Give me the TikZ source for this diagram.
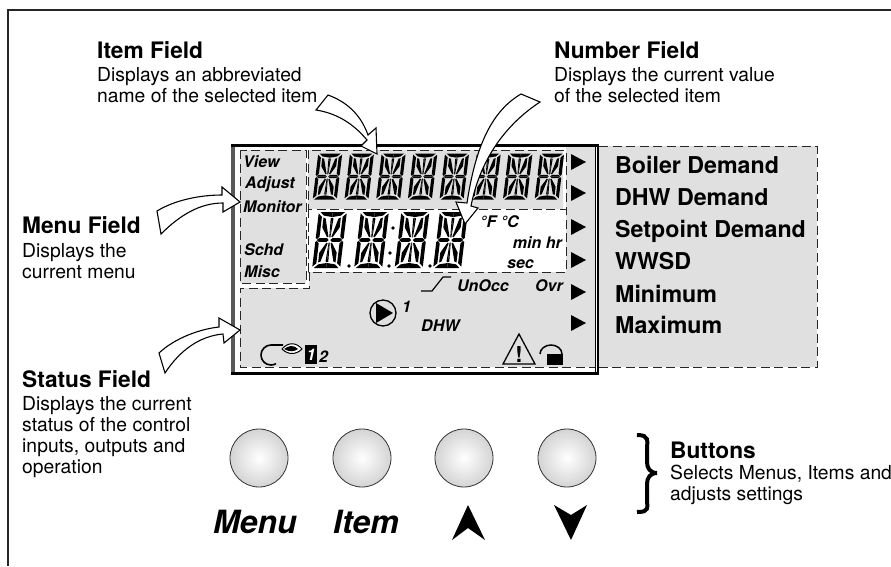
\documentclass[tikz,border=0pt]{standalone}
\usepackage{fontspec}
\setmainfont{TeX Gyre Heros}
\usepackage{tikz}
\usetikzlibrary{
	positioning,
	shadings
}
\definecolor{lcdgray}{HTML}{E0E0E0}
\tikzset{
	fieldtitle/.style={anchor=base west,inner sep=0pt,font=\fontsize{22.7}{26}\selectfont\bfseries},
	fielddesc/.style={inner sep=0pt,align=left,font=\fontsize{19.3}{21}\selectfont},
	lcdlabel/.style={anchor=base west,inner sep=0pt,font=\fontsize{16}{18}\selectfont\bfseries\itshape},
	keyname/.style={anchor=base west,inner sep=0pt,font=\fontsize{32}{36}\selectfont\bfseries\itshape},
	modename/.style={anchor=base west,inner sep=0pt,font=\fontsize{23.2}{26}\selectfont\bfseries},
	zonedash/.style={line width=1pt,dash pattern=on 9pt off 4.5pt,black!85},
	blockarrow/.style={draw=black,fill=white,line width=1.1pt,line join=miter},
	roundkey/.style={circle,draw=black!80,line width=.8pt,minimum size=58pt,inner sep=0pt,inner color=white,outer color=black!17},
	pics/lcddigit/.style={code={
		\foreach \sx/\sy in {1/1,-1/1,1/-1,-1/-1} {
			\fill[xscale=\sx,yscale=\sy]
				(0,1) -- (.44,1) -- (.30,.87) -- (0,.82) -- cycle
				(.5,.95) -- (.37,.83) -- (.37,.12) -- (.45,.03) -- (.5,.07) -- cycle
				(.03,0) -- (.10,.07) -- (.37,.07) -- (.45,0) -- cycle
				(.31,.80) -- (.23,.77) -- (.05,.11) -- (.10,.10) -- (.31,.45) -- cycle
				(0,.79) -- (.05,.77) -- (.02,.09) -- (0,.09) -- cycle;
		}
	}}
}
\begin{document}
\begin{tikzpicture}[x=1pt,y=-1pt]
	\useasboundingbox (0,0) rectangle (891,566);
	\draw[line width=1.2pt,black!85] (891,10) -- (8,10) -- (8,566);

	% display
	\fill[lcdgray] (240,288) -- (309,288) -- (309,272) -- (566,272) -- (566,147) -- (595,147) -- (595,367) -- (240,367) -- cycle;
	\fill[lcdgray] (240,150) rectangle (306,283);
	\fill[lcdgray] (308,150) rectangle (563,209);
	\fill[lcdgray] (599,146) rectangle (817,367);
	\draw[line width=4pt,black!65] (232.5,146) -- (232.5,374);
	\draw[line width=2.5pt] (231,145.5) -- (598,145.5) -- (598,373.5) -- (231,373.5);
	\draw[line width=1pt] (595,147) -- (595,372);

	\draw[zonedash] (240,150) rectangle (306,283);
	\draw[zonedash] (308,150) rectangle (566,209);
	\draw[zonedash] (308,209) -- (308,272) -- (566,272) -- (566,209);
	\draw[zonedash] (309,272) -- (309,288) -- (240,288) -- (240,367) -- (595,367);
	\draw[zonedash] (599,146.5) -- (817,146.5) -- (817,367) -- (599,367);

	\foreach \n in {0,...,7}
		\path (327.5+\n*31.7,176.5) pic[xslant=.12,xscale=24,yscale=23] {lcddigit};
	\foreach \cx in {329.5,371.5,412,450.5}
		\path (\cx,240) pic[xslant=.12,xscale=28,yscale=28] {lcddigit};
	\foreach \dx/\dy in {349/266,393/228,390/253,389/266,430/266}
		\fill (\dx,\dy) circle (1.9);
	\foreach \ty in {162,193,227,260,292,323}
		\fill (571,\ty-8) -- (586,\ty) -- (571,\ty+8) -- cycle;

	\node[lcdlabel] (view) at (243,167) {View};
	\node[lcdlabel] (adjust) at (245,188) {Adjust};
	\node[lcdlabel] (monitor) at (243,212) {Monitor};
	\node[lcdlabel] (schd) at (244,255) {Schd};
	\node[lcdlabel] (misc) at (244,277) {Misc};
	\node[lcdlabel] (degrees) at (480,227) {°F °C};
	\node[lcdlabel,anchor=base east] (minhr) at (562,248) {min hr};
	\node[lcdlabel] (sec) at (507,268) {sec};
	\node[lcdlabel] (unocc) at (457,291) {UnOcc};
	\node[lcdlabel] (ovr) at (535,291) {Ovr};
	\node[lcdlabel] (dhw) at (421,331) {DHW};
	\node[lcdlabel] (pumpone) at (402,312) {1};
	\node[lcdlabel] (stagetwo) at (319,362) {2};

	\draw[line width=1.2pt] (421,291) -- (432,291) -- (443,277) -- (451,277);
	\draw[line width=1.3pt] (383,313) circle (13);
	\fill (376,303) -- (393,313) -- (376,323) -- cycle;
	\draw[line width=1.6pt] (283,345) -- (271,345) arc (-90:-300:10);
	\draw[line width=1pt,fill=white] (282,349) .. controls (288,342) and (296,342) .. (302,349) .. controls (296,355) and (288,355) .. (282,349) -- cycle;
	\fill (284,349) .. controls (289,345) and (294,345) .. (298,349) .. controls (294,352) and (289,352) .. (284,349) -- cycle;
	\fill (305,345) rectangle (317,364);
	\node[lcdlabel,text=white,anchor=base] (stageone) at (311,360) {1};
	\draw[line width=1.3pt,line join=miter] (519,334) -- (535,364) -- (503,364) -- cycle;
	\node[inner sep=0pt,anchor=base,font=\fontsize{22}{24}\selectfont\bfseries] (caution) at (519,362) {!};
	\draw[line width=1.5pt] (540,354) arc (180:360:11 and 9);
	\fill (547,354) rectangle (563,365);

	% right panel
	\foreach \mname/\mtxt/\my in {boiler/Boiler Demand/173,dhwdem/DHW Demand/205,setpoint/Setpoint Demand/237,wwsd/WWSD/269,minimum/Minimum/302,maximum/Maximum/333}
		\node[modename] (\mname) at (615,\my) {\mtxt};

	% callouts
	\draw[blockarrow] (328,95) .. controls (350,103) and (362,118) .. (368,135) -- (376,128) -- (377,154) -- (361,146) -- (367,140) .. controls (352,122) and (335,113) .. (316,110) -- cycle;
	\draw[blockarrow] (521,94) .. controls (490,112) and (475,150) .. (467,203) -- (456,202) -- (465,224) -- (478,208) -- (471,206) .. controls (480,160) and (505,125) .. (540,102) -- cycle;
	\draw[blockarrow] (157,211) .. controls (175,200) and (200,195) .. (222,195) -- (222,187) -- (240,202) -- (223,212) -- (223,203) .. controls (200,203) and (180,215) .. (161,234) -- cycle;
	\draw[blockarrow] (159,353) .. controls (175,338) and (200,329) .. (219,327) -- (219,318) -- (240,330) -- (224,343) -- (223,334) .. controls (200,336) and (180,350) .. (165,373) -- cycle;

	\node[fieldtitle] (itemtitle) at (97,58) {Item Field};
	\node[fielddesc,below right=9pt and 0pt of itemtitle.base west] (itemdesc) {\strut Displays an abbreviated\\name of the selected item};
	\node[fieldtitle] (numbertitle) at (554,58) {Number Field};
	\node[fielddesc,below right=9pt and 0pt of numbertitle.base west] (numberdesc) {\strut Displays the current value\\of the selected item};
	\node[fieldtitle] (menutitle) at (22,233) {Menu Field};
	\node[fielddesc,below right=10pt and 0pt of menutitle.base west] (menudesc) {\strut Displays the\\current menu};
	\node[fieldtitle] (statustitle) at (22,387) {Status Field};
	\node[fielddesc,below right=8.5pt and 0pt of statustitle.base west] (statusdesc) {\strut Displays the current\\status of the control\\inputs, outputs and\\operation};
	\node[fieldtitle] (buttonstitle) at (670,458) {Buttons};
	\node[fielddesc,below right=7pt and 0pt of buttonstitle.base west] (buttonsdesc) {\strut Selects Menus, Items and\\adjusts settings};

	% keys
	\node[roundkey] (menukey) at (259,458) {};
	\node[roundkey] (itemkey) at (362,458) {};
	\node[roundkey] (upkey) at (464,458) {};
	\node[roundkey] (downkey) at (567,458) {};
	\node[keyname] (menulabel) at (213,533) {Menu};
	\node[keyname] (itemlabel) at (333,533) {Item};
	\fill (468,505) -- (485,540) -- (468,528) -- (452,540) -- cycle;
	\fill (571,540) -- (554,505) -- (571,515) -- (587,505) -- cycle;
	\draw[line width=4pt] (637,435) .. controls (650,435) and (647,441) .. (647,450) -- (647,462) .. controls (647,468) and (650,473) .. (657,473) .. controls (650,473) and (647,478) .. (647,484) -- (647,498) .. controls (647,508) and (650,512) .. (637,512);
\end{tikzpicture}
\end{document}
